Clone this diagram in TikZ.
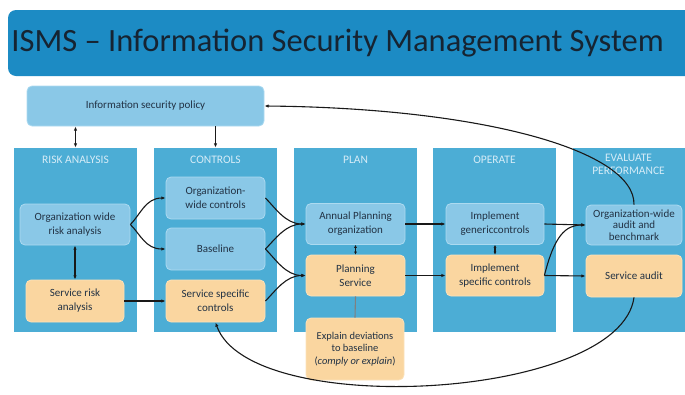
\documentclass[tikz,border=0pt]{standalone}
\usepackage{fontspec}
\setmainfont{Carlito}
\usetikzlibrary{positioning, calc, arrows.meta}

\definecolor{titleblue}{RGB}{28,139,196}
\definecolor{colblue}{RGB}{76,173,213}
\definecolor{lightbox}{RGB}{138,200,231}
\definecolor{lightedge}{RGB}{172,218,240}
\definecolor{orangebox}{RGB}{250,214,160}
\definecolor{orangeedge}{RGB}{252,226,186}
\definecolor{headtext}{RGB}{214,236,247}
\definecolor{boxtext}{RGB}{34,50,68}
\definecolor{titletext}{RGB}{22,36,50}

\begin{document}
\begin{tikzpicture}[
  x=1pt, y=-1pt,
  >={Latex[length=1.5mm, width=1.2mm]}, thick,
  column/.style = {fill=colblue, minimum width=123pt, minimum height=184pt, inner sep=0pt},
  header/.style = {text=headtext, font=\fontsize{11.5}{13}\selectfont, align=center, anchor=north},
  orgbox/.style = {draw=lightedge, fill=lightbox, rounded corners=5pt, text=boxtext, align=center,
                   font=\fontsize{11}{14}\selectfont, minimum width=99pt, minimum height=42pt, inner sep=2pt},
  svcbox/.style = {orgbox, draw=orangeedge, fill=orangebox},
  link/.style   = {->, black!90, line width=1.1pt},
  twoway/.style = {<->, black!90, line width=1.1pt},
  tinyway/.style = {{Latex[length=3pt, width=3pt]}-{Latex[length=3pt, width=3pt]}, black!90, line width=1.1pt},
]
  \clip (0,0) rectangle (685,394);
  \useasboundingbox (0,0) rectangle (685,394);

  % title bar
  \fill[titleblue, rounded corners=8pt] (8,10) rectangle (720,76);
  \node[anchor=west, text=titletext, font=\fontsize{32.5}{36}\selectfont, inner sep=0pt] (title) at (11,43)
    {ISMS – Information Security Management System};

  % policy
  \node[orgbox, minimum width=237pt, minimum height=40pt] (policy) at (145.5,106)
    {Information security policy};

  % columns
  \node[column]                       (colRA) at (75.5,240)  {};
  \node[column]                       (colCT) at (215.5,240) {};
  \node[column]                       (colPL) at (355.5,240) {};
  \node[column]                       (colOP) at (494.5,240) {};
  \node[column, minimum width=115pt]  (colEV) at (630.5,240) {};

  \node[header] (hRA) at (75.5,152)  {RISK ANALYSIS};
  \node[header] (hCT) at (215.5,152) {CONTROLS};
  \node[header] (hPL) at (355.5,152) {PLAN};
  \node[header] (hOP) at (494.5,152) {OPERATE};
  \node[header] (hEV) at (628.5,150) {EVALUATE\\PERFORMANCE};

  % risk analysis
  \node[orgbox, minimum width=110pt, minimum height=41pt] (orgrisk)  at (75,224.5) {Organization wide\\risk analysis};
  \node[svcbox, minimum width=98pt]                       (servrisk) at (75,301)   {Service risk\\analysis};

  % controls
  \node[orgbox] (orgctl)   at (215.5,198) {Organization-\\wide controls};
  \node[orgbox] (baseline) at (215.5,249) {Baseline};
  \node[svcbox] (servctl)  at (215.5,301) {Service specific\\controls};

  % plan
  \node[orgbox, minimum height=41pt] (annual)  at (355.5,224)   {Annual Planning\\organization};
  \node[svcbox, minimum height=41pt] (plansvc) at (355.5,275.5) {Planning\\Service};
  \node[svcbox, minimum width=98pt, minimum height=62pt, font=\fontsize{10.5}{12.5}\selectfont] (explain) at (355,349)
    {Explain deviations\\to baseline\\(\textit{comply or explain})};

  % operate
  \node[orgbox, minimum width=98pt, minimum height=41pt] (implgen)  at (495,224)   {Implement\\genericcontrols};
  \node[svcbox, minimum width=98pt, minimum height=41pt] (implspec) at (495,275.5) {Implement\\specific controls};

  % evaluate
  \node[orgbox, minimum width=96pt, minimum height=40pt, font=\fontsize{11}{11.5}\selectfont] (orgaudit) at (634,225) {Organization-wide\\audit and\\benchmark};
  \node[svcbox, minimum width=96pt, minimum height=42pt] (servaudit) at (634,276) {Service audit};

  % policy links
  \draw[twoway] (policy.south -| colRA.north) -- (colRA.north);
  \draw[link]   (policy.south -| colCT.north) -- (colCT.north);

  % risk analysis links
  \draw[twoway] (orgrisk.south) -- (servrisk.north -| orgrisk.south);
  \draw[link] (orgrisk.east) .. controls +(10,-10) and +(-20,0) .. (orgctl.west);
  \draw[link] (orgrisk.east) .. controls +(10,10) and +(-20,0) .. (baseline.west);
  \draw[link] (servrisk.east) -- (servctl.west);

  % controls to plan
  \draw[link] (orgctl.east)   .. controls +(10,10) and +(-20,0) .. (annual.west);
  \draw[link] (baseline.east) .. controls +(10,-10) and +(-20,0) .. (annual.west);
  \draw[link] (baseline.east) .. controls +(10,10) and +(-20,0) .. (plansvc.west);
  \draw[link] (servctl.east)  .. controls +(10,-10) and +(-20,0) .. (plansvc.west);

  % plan
  \draw[tinyway] (annual.south) -- (plansvc.north);
  \draw[gray, line width=1.1pt] (plansvc.south) -- (explain.north);
  \draw[link] (annual.east)  -- (implgen.west);
  \draw[link] (plansvc.east) -- (implspec.west);

  % operate
  \draw[tinyway] (implgen.south) -- (implspec.north);
  \draw[link] (implgen.east)  -- (orgaudit.west);
  \draw[link] (implspec.east) -- (servaudit.west);
  \draw[link] (implspec.east) .. controls +(10,-40) and +(-20,0) .. (orgaudit.west);

  % feedback loops
  \draw[link] (orgaudit.north) .. controls (635,150) and (480,108) .. (policy.east);
  \draw[link] (servaudit.south) .. controls (620,400) and (250,420) .. (servctl.south);
\end{tikzpicture}
\end{document}
